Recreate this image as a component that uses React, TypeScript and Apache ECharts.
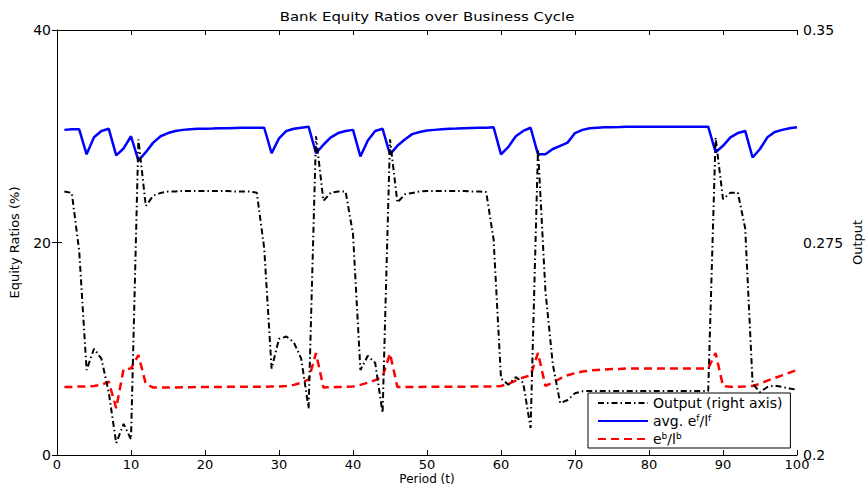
import React, { useEffect, useRef } from "react";
import * as echarts from "echarts";

const periods: number[] = Array.from({ length: 100 }, (_, i) => i + 1);

const outputValues: number[] = [
  0.293, 0.2925, 0.272, 0.23, 0.2375, 0.234, 0.222, 0.2042, 0.211, 0.2055,
  0.3114, 0.2879, 0.2915, 0.2925, 0.293, 0.293, 0.2932, 0.2932, 0.2932, 0.2932,
  0.2932, 0.2932, 0.2932, 0.293, 0.293, 0.293, 0.2926, 0.273, 0.2305, 0.241,
  0.2418, 0.2398, 0.234, 0.2165, 0.3125, 0.2897, 0.2926, 0.293, 0.293, 0.278,
  0.23, 0.235, 0.2325, 0.2148, 0.3114, 0.2891, 0.292, 0.2925, 0.293, 0.2932,
  0.2932, 0.2932, 0.2932, 0.2932, 0.2932, 0.293, 0.293, 0.2928, 0.276, 0.227,
  0.2248, 0.2275, 0.2255, 0.2095, 0.308, 0.258, 0.232, 0.2183, 0.2194, 0.2218,
  0.2225, 0.2226, 0.2226, 0.2226, 0.2226, 0.2226, 0.2226, 0.2226, 0.2226, 0.2226,
  0.2226, 0.2226, 0.2226, 0.2226, 0.2226, 0.2226, 0.2226, 0.2226, 0.312, 0.2903,
  0.2926, 0.2926, 0.28, 0.2252, 0.2222, 0.224, 0.2245, 0.224, 0.2235, 0.223,
];

const avgFirmEquity: number[] = [
  30.6, 30.65, 30.65, 28.3, 29.9, 30.5, 30.7, 28.2, 28.85, 30.0,
  27.7, 28.5, 29.4, 30.0, 30.3, 30.5, 30.6, 30.65, 30.7, 30.7,
  30.72, 30.75, 30.75, 30.78, 30.8, 30.8, 30.8, 30.8, 28.4, 29.8,
  30.5, 30.7, 30.8, 30.9, 28.4, 29.2, 29.9, 30.3, 30.5, 30.6,
  28.1, 29.6, 30.5, 30.7, 28.3, 29.1, 29.7, 30.2, 30.4, 30.55,
  30.6, 30.65, 30.7, 30.72, 30.75, 30.78, 30.8, 30.8, 30.85, 28.3,
  29.0, 30.0, 30.5, 30.8, 28.3, 28.3, 28.8, 29.1, 29.4, 30.3,
  30.6, 30.75, 30.8, 30.85, 30.85, 30.87, 30.9, 30.9, 30.9, 30.9,
  30.9, 30.9, 30.9, 30.9, 30.9, 30.9, 30.9, 30.9, 28.5, 29.1,
  29.9, 30.3, 30.5, 28.0, 28.8, 29.9, 30.4, 30.6, 30.75, 30.85,
];

const bankEquity: number[] = [
  6.4, 6.4, 6.45, 6.45, 6.5, 6.6, 6.9, 4.4, 8.1, 8.15,
  9.4, 6.7, 6.35, 6.35, 6.35, 6.35, 6.38, 6.38, 6.4, 6.4,
  6.4, 6.4, 6.42, 6.42, 6.42, 6.43, 6.43, 6.43, 6.45, 6.45,
  6.5, 6.6, 6.8, 7.1, 9.6, 6.35, 6.38, 6.4, 6.42, 6.45,
  6.6, 6.8, 7.05, 7.4, 9.55, 6.4, 6.4, 6.4, 6.4, 6.42,
  6.42, 6.42, 6.43, 6.43, 6.43, 6.44, 6.44, 6.45, 6.45, 6.5,
  6.7, 7.0, 7.3, 7.5, 9.6, 6.5, 6.8, 7.2, 7.5, 7.7,
  7.85, 7.95, 8.0, 8.05, 8.1, 8.1, 8.15, 8.15, 8.15, 8.15,
  8.15, 8.15, 8.15, 8.15, 8.15, 8.15, 8.15, 8.15, 9.6, 6.5,
  6.42, 6.42, 6.45, 6.5, 6.7, 7.0, 7.25, 7.5, 7.75, 8.0,
];

const leftTicks = { min: 0, max: 40, interval: 20 };
const rightTickValues: number[] = [0.2, 0.275, 0.35];
const xTicks = { min: 0, max: 100, interval: 10 };

const titleText = "Bank Equity Ratios over Business Cycle";
const xName = "Period (t)";
const leftName = "Equity Ratios (%)";
const rightName = "Output";
const seriesNames = ["Output (right axis)", "avg. ef/lf", "eb/lb"];
const legendRich: Record<string, string> = {
  "Output (right axis)": "{n|Output (right axis)}",
  "avg. ef/lf": "{n|avg. e}{s|f}{n|/l}{s|f}",
  "eb/lb": "{n|e}{s|b}{n|/l}{s|b}",
};

const FONT = "DejaVu Sans";

export default function App() {
  const ref = useRef<HTMLDivElement>(null);
  useEffect(() => {
    if (!ref.current) return;
    const chart = echarts.init(ref.current, undefined, { renderer: "svg" });
    const axisLine = { show: true, lineStyle: { color: "#000", width: 1 } };
    const axisTick = { show: true, inside: true, length: 5, lineStyle: { color: "#000", width: 1 } };
    const labelStyle = { color: "#000", fontSize: 14, fontFamily: FONT };
    const nameStyle = { color: "#000", fontSize: 13, fontFamily: FONT };
    chart.setOption({
      animation: false,
      backgroundColor: "#fff",
      grid: {
        left: 57,
        right: 69,
        top: 30,
        bottom: 33,
        containLabel: false,
        outerBoundsMode: "none",
      },
      graphic: [
        {
          type: "text",
          x: 427,
          y: 17,
          scaleX: 1.3,
          style: {
            text: titleText,
            font: `11.5px '${FONT}'`,
            fill: "#000",
            textAlign: "center",
            textVerticalAlign: "middle",
          },
        },
      ],
      legend: {
        data: seriesNames,
        orient: "vertical",
        left: 588,
        top: 393,
        padding: [3, 8, 2, 9],
        itemGap: 3,
        itemWidth: 50,
        itemHeight: 15,
        borderColor: "#000",
        borderWidth: 1,
        backgroundColor: "#fff",
        borderRadius: 0,
        itemStyle: { opacity: 0, borderWidth: 0 },
        formatter: (name: string) => legendRich[name] || name,
        textStyle: {
          color: "#000",
          fontFamily: FONT,
          fontSize: 14,
          rich: {
            n: { fontFamily: FONT, fontSize: 14, color: "#000", lineHeight: 16 },
            s: { fontFamily: FONT, fontSize: 9, color: "#000", lineHeight: 16, verticalAlign: "top", padding: [0, 0, 6, 0] },
          },
        },
      },
      xAxis: [
        {
          type: "value",
          position: "bottom",
          min: xTicks.min,
          max: xTicks.max,
          interval: xTicks.interval,
          axisLine,
          axisTick,
          axisLabel: { ...labelStyle, fontSize: 13, margin: 3, lineHeight: 12 },
          splitLine: { show: false },
          name: xName,
          nameLocation: "middle",
          nameGap: 18.5,
          nameMoveOverlap: false,
          nameTextStyle: { ...nameStyle, fontSize: 12, lineHeight: 11 },
        },
        {
          type: "value",
          position: "top",
          min: xTicks.min,
          max: xTicks.max,
          interval: xTicks.interval,
          axisLine,
          axisTick,
          axisLabel: { show: false },
          splitLine: { show: false },
        },
      ],
      yAxis: [
        {
          type: "value",
          position: "left",
          min: leftTicks.min,
          max: leftTicks.max,
          interval: leftTicks.interval,
          axisLine,
          axisTick,
          axisLabel: { ...labelStyle, margin: 6 },
          splitLine: { show: false },
          name: leftName,
          nameLocation: "middle",
          nameGap: 36,
          nameRotate: 90,
          nameMoveOverlap: false,
          nameTextStyle: nameStyle,
        },
        {
          type: "value",
          position: "right",
          min: rightTickValues[0],
          max: rightTickValues[rightTickValues.length - 1],
          axisLine,
          axisTick: { ...axisTick, customValues: rightTickValues },
          axisLabel: {
            ...labelStyle,
            margin: 6,
            lineHeight: 12,
            customValues: rightTickValues,
            formatter: (v: number) => String(Math.round(v * 1000) / 1000),
          },
          splitLine: { show: false },
          name: rightName,
          nameLocation: "middle",
          nameGap: 54,
          nameRotate: 90,
          nameMoveOverlap: false,
          nameTextStyle: nameStyle,
        },
      ],
      series: [
        {
          name: seriesNames[1],
          type: "line",
          xAxisIndex: 0,
          yAxisIndex: 0,
          data: periods.map((t, i) => [t, avgFirmEquity[i]]),
          symbol: "none",
          itemStyle: { color: "#0000ff" },
          lineStyle: { color: "#0000ff", width: 2.5 },
          z: 2,
        },
        {
          name: seriesNames[2],
          type: "line",
          xAxisIndex: 0,
          yAxisIndex: 0,
          data: periods.map((t, i) => [t, bankEquity[i]]),
          symbol: "none",
          itemStyle: { color: "#ff0000" },
          lineStyle: { color: "#ff0000", width: 2.5, type: [8, 5] },
          z: 3,
        },
        {
          name: seriesNames[0],
          type: "line",
          xAxisIndex: 0,
          yAxisIndex: 1,
          data: periods.map((t, i) => [t, outputValues[i]]),
          symbol: "none",
          itemStyle: { color: "#000" },
          lineStyle: { color: "#000", width: 2, type: [6, 3, 1.5, 3] },
          z: 4,
        },
      ],
    });
    return () => chart.dispose();
  }, []);
  return (
    <div
      ref={ref}
      style={{ position: "absolute", left: 0, top: 0, width: 866, height: 488, background: "#fff" }}
    />
  );
}
